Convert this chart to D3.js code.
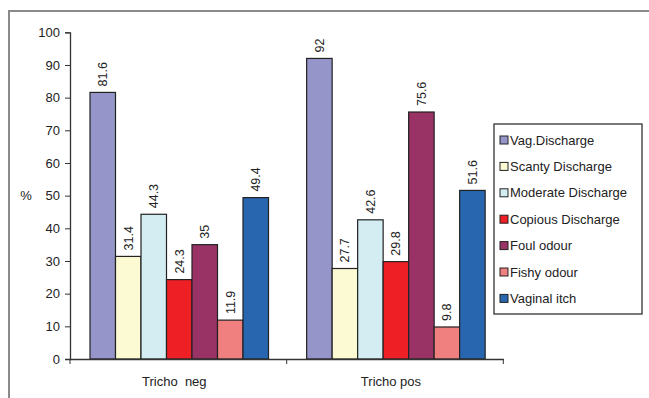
<!DOCTYPE html>
<html>
<head>
<meta charset="utf-8">
<script src="https://cdn.jsdelivr.net/npm/d3@7"></script>
<style>
  body { margin: 0; background: #fff; }
  text { font-family: "Liberation Sans", Arial, sans-serif; fill: #222; }
</style>
</head>
<body>
<div class="chart"></div>
<script>
var groups = ["Tricho  neg", "Tricho pos"];
var series = ["Vag.Discharge", "Scanty Discharge", "Moderate Discharge", "Copious Discharge", "Foul odour", "Fishy odour", "Vaginal itch"];
var negValues = [81.6, 31.4, 44.3, 24.3, 35, 11.9, 49.4];
var posValues = [92, 27.7, 42.6, 29.8, 75.6, 9.8, 51.6];
var yTicks = [0, 10, 20, 30, 40, 50, 60, 70, 80, 90, 100];
var colors = ["#9595c9", "#fcfad2", "#d3edf2", "#ee1f25", "#993366", "#f07f7f", "#2966b0"];

var width = 649, height = 398;
var svg = d3.select(".chart").append("svg")
    .attr("width", width)
    .attr("height", height);

// outer frame
svg.append("path")
    .attr("d", "M9,398 V11 H649")
    .attr("fill", "none")
    .attr("stroke", "#8a8a8a")
    .attr("stroke-width", 2);

var y = d3.scaleLinear().domain([0, 100]).range([359, 32.3]);
var x0 = d3.scaleBand().domain(groups).range([70, 503.3]);
var x1 = d3.scaleBand().domain(series).range([20, 198.5]);
var color = d3.scaleOrdinal().domain(series).range(colors);

var rows = groups.map(function(g, i) {
    var vals = i == 0 ? negValues : posValues;
    return series.map(function(s, j) {
        return {group: g, name: s, value: vals[j]};
    });
});

// y axis
var yAxis = svg.append("g")
    .attr("transform", "translate(70,0)")
    .call(d3.axisLeft(y).tickValues(yTicks).tickSize(5).tickPadding(5));
yAxis.select(".domain").attr("stroke", "#333").attr("stroke-width", 1.3);
yAxis.selectAll(".tick line").attr("stroke", "#333");
yAxis.selectAll(".tick text")
    .attr("font-size", 13)
    .attr("font-family", "Liberation Sans, Arial, sans-serif")
    .attr("fill", "#222");

svg.append("text")
    .attr("x", 26)
    .attr("y", 200)
    .attr("text-anchor", "middle")
    .attr("font-size", 13)
    .text("%");

// bars
var g = svg.selectAll(".grp")
    .data(rows)
    .enter()
    .append("g")
    .attr("class", "grp")
    .attr("transform", function(d, i) { return "translate(" + x0(groups[i]) + ",0)"; });

g.selectAll("rect")
    .data(function(d) { return d; })
    .enter()
    .append("rect")
    .attr("x", function(d) { return x1(d.name); })
    .attr("y", function(d) { return y(d.value); })
    .attr("width", x1.bandwidth())
    .attr("height", function(d) { return y(0) - y(d.value); })
    .attr("fill", function(d) { return color(d.name); })
    .attr("stroke", "#222")
    .attr("stroke-width", 1.2);

g.selectAll(".lbl")
    .data(function(d) { return d; })
    .enter()
    .append("text")
    .attr("class", "lbl")
    .attr("transform", function(d) {
        return "translate(" + (x1(d.name) + x1.bandwidth() / 2) + "," + (y(d.value) - 6) + ") rotate(-90)";
    })
    .attr("dy", "0.35em")
    .attr("font-size", 12.5)
    .text(function(d) { return d.value; });

// x axis
var xAxis = svg.append("g")
    .attr("transform", "translate(0,359)")
    .call(d3.axisBottom(x0).tickValues([]).tickSizeOuter(0));
xAxis.select(".domain").attr("stroke", "#333").attr("stroke-width", 1.3);
var xTicks = [70, 286.7, 503.3];
xAxis.selectAll(".sep")
    .data(xTicks)
    .enter()
    .append("line")
    .attr("x1", function(d) { return d; })
    .attr("x2", function(d) { return d; })
    .attr("y1", 0)
    .attr("y2", 5)
    .attr("stroke", "#333");

svg.selectAll(".glbl")
    .data(groups)
    .enter()
    .append("text")
    .attr("class", "glbl")
    .attr("x", function(d) { return x0(d) + x0.bandwidth() / 2 - 4; })
    .attr("y", 386)
    .attr("text-anchor", "middle")
    .attr("font-size", 13)
    .attr("xml:space", "preserve")
    .style("white-space", "pre")
    .text(function(d) { return d; });

// legend
var legend = svg.append("g").attr("transform", "translate(494,124)");
legend.append("rect")
    .attr("width", 148)
    .attr("height", 190)
    .attr("fill", "#fff")
    .attr("stroke", "#333")
    .attr("stroke-width", 1.3);

var items = legend.selectAll(".item")
    .data(series)
    .enter()
    .append("g")
    .attr("class", "item")
    .attr("transform", function(d, i) { return "translate(6," + (16 + i * 26.4) + ")"; });

items.append("rect")
    .attr("x", 0)
    .attr("y", -4)
    .attr("width", 8)
    .attr("height", 8)
    .attr("fill", function(d) { return color(d); })
    .attr("stroke", "#222");

items.append("text")
    .attr("x", 10)
    .attr("dy", "0.35em")
    .attr("font-size", 13)
    .text(function(d) { return d; });
</script>
</body>
</html>
